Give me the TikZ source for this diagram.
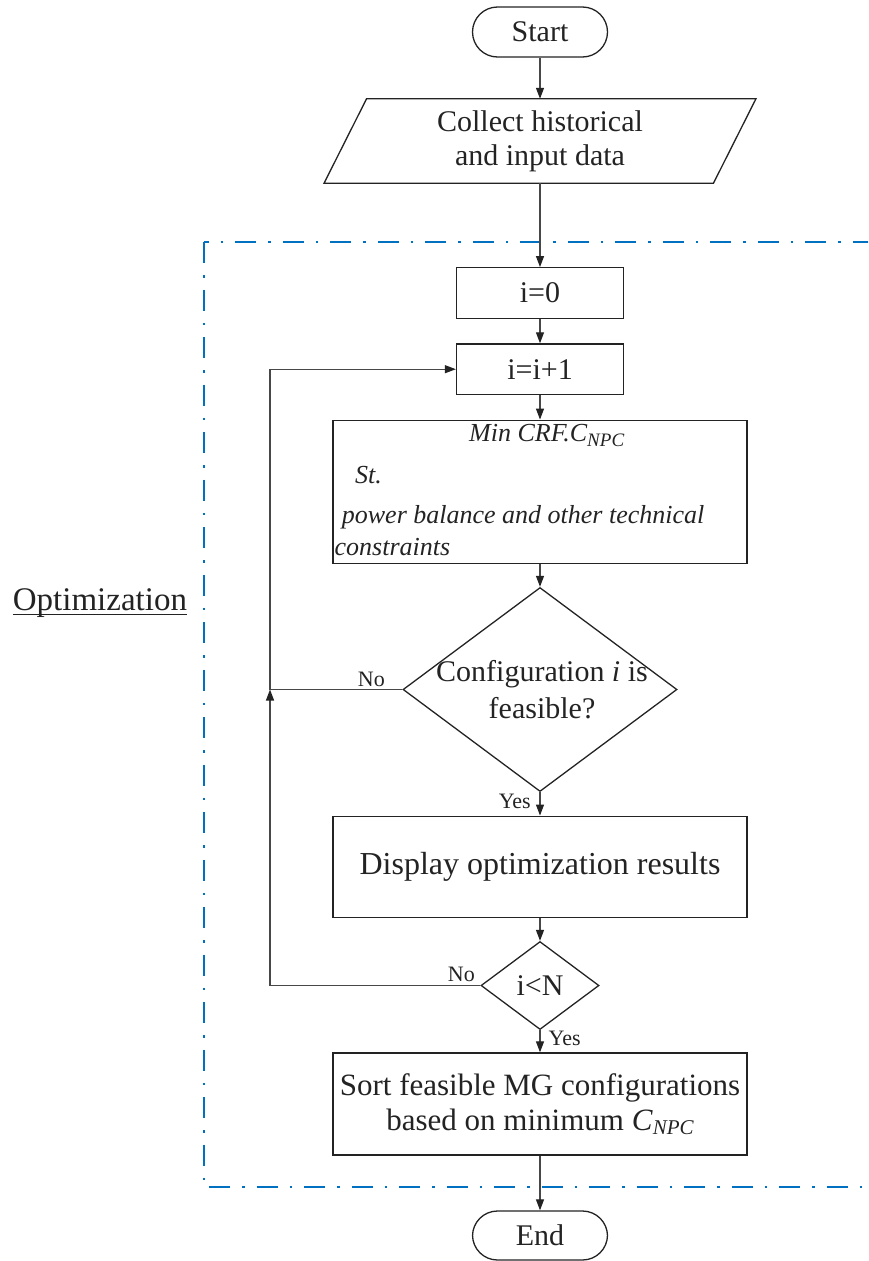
\documentclass[tikz,border=0pt]{standalone}
\usepackage{fontspec}
\setmainfont{Liberation Serif}
\usetikzlibrary{shapes.geometric,arrows.meta,calc}
\definecolor{optblue}{RGB}{0,112,192}
\definecolor{ink}{RGB}{35,35,35}
\newcommand{\mysub}[2]{\raisebox{-4.5pt}{\fontsize{#1}{#1}\selectfont #2}}
\tikzset{
  box/.style={draw=ink, line width=1.3pt, rectangle, inner sep=0pt, text=ink, font=\fontsize{30pt}{36pt}\selectfont},
  term/.style={box, rounded corners=25pt, minimum width=135pt, minimum height=50pt},
  dec/.style={draw=ink, line width=1.3pt, diamond, inner sep=0pt, text=ink},
  shapeline/.style={draw=ink, line width=1.3pt},
  conn/.style={draw=black!72, line width=1.2pt},
  flow/.style={conn, -{Triangle[length=11pt,width=8pt,color=ink]}},
  lbl/.style={text=ink, font=\fontsize{22pt}{26pt}\selectfont, inner sep=0pt},
  itx/.style={text=ink, font=\fontsize{26pt}{30pt}\selectfont\itshape, inner sep=0pt},
  optbox/.style={draw=optblue, line width=2.7pt, dash pattern=on 21pt off 12pt on 2.5pt off 12pt}
}
\begin{document}
\begin{tikzpicture}[x=1pt,y=1pt]
\useasboundingbox (0,0) rectangle (868,-1261);
\clip (0,0) rectangle (868,-1261);

% optimization frame
\draw[optbox] (204,-242) rectangle (900,-1187);

% nodes
\node[term] (start) at (540,-32) {Start};
\node[minimum width=389pt, minimum height=84pt, inner sep=0pt, align=center, text=ink,
      font=\fontsize{30pt}{34pt}\selectfont] (collect) at (540,-141) {Collect historical\\and input data};
\draw[shapeline] ([xshift=21.25pt]collect.north west) -- ([xshift=21.25pt]collect.north east)
  -- ([xshift=-21.25pt]collect.south east) -- ([xshift=-21.25pt]collect.south west) -- cycle;

\node[box, minimum width=167pt, minimum height=50.5pt] (i0) at (540,-293) {i=0};
\node[box, minimum width=167pt, minimum height=50.5pt] (inc) at (540,-369.2) {i=i+1};

\node[box, minimum width=414pt, minimum height=143pt] (opt) at (540,-491.7) {};
\node[itx, anchor=base] (t1) at (546.7,-441.7) {Min CRF.C\mysub{19pt}{NPC}};
\node[itx, anchor=base west] (t2) at (355,-483) {St.};
\node[itx, anchor=base west] (t3) at (341.7,-523) {power balance and other technical};
\node[itx, anchor=base west] (t4) at (334.5,-555) {constraints};

\node[dec, minimum width=274pt, minimum height=204pt] (d1) at (540,-689.5) {};
\node[text=ink, align=center, font=\fontsize{30pt}{36.7pt}\selectfont, inner sep=0pt] (d1t) at (542,-689.5)
  {Configuration \textit{i} is\\feasible?};

\node[box, minimum width=414pt, minimum height=101pt, font=\fontsize{32pt}{38pt}\selectfont] (disp) at (540,-866.7) {Display optimization results};

\node[dec, minimum width=118pt, minimum height=88pt, font=\fontsize{30pt}{36pt}\selectfont] (d2) at (540,-985.5) {i<N};

\node[box, minimum width=414pt, minimum height=102pt, align=center, font=\fontsize{31pt}{35pt}\selectfont] (sort) at (540,-1104)
  {Sort feasible MG configurations\\based on minimum \textit{C}\mysub{21pt}{\itshape NPC}};

\node[term, minimum height=49pt] (end) at (540,-1235.5) {End};

% optimization label
\node[text=ink, font=\fontsize{33pt}{38pt}\selectfont, anchor=base west, inner sep=0pt] (optlbl) at (12.7,-610.7) {Optimization};
\draw[ink, line width=1.3pt] ($(optlbl.base west)+(0,-3.5)$) -- ($(optlbl.base east)+(0,-3.5)$);

% connectors
\draw[flow] (start.south) -- (collect.north);
\draw[flow] (collect.south) -- (i0.north);
\draw[flow] (i0) -- (inc);
\draw[flow] (inc) -- (opt);
\draw[flow] (opt) -- (d1);
\draw[flow] (d1) -- (disp);
\draw[flow] (disp) -- (d2);
\draw[flow] (d2) -- (sort);
\draw[flow] (sort) -- (end);

\coordinate (j1) at (270,-689.5);
\draw[conn] (d1.west) -- (j1);
\draw[flow] (d2.west) -| (j1);
\draw[flow] (j1) |- (inc.west);

% branch labels
\node[lbl, anchor=base east] (no1) at (385,-686.7) {No};
\node[lbl, anchor=base east] (yes1) at (531,-808) {Yes};
\node[lbl, anchor=base east] (no2) at (475,-981.7) {No};
\node[lbl, anchor=base west] (yes2) at (548.4,-1045) {Yes};
\end{tikzpicture}
\end{document}
